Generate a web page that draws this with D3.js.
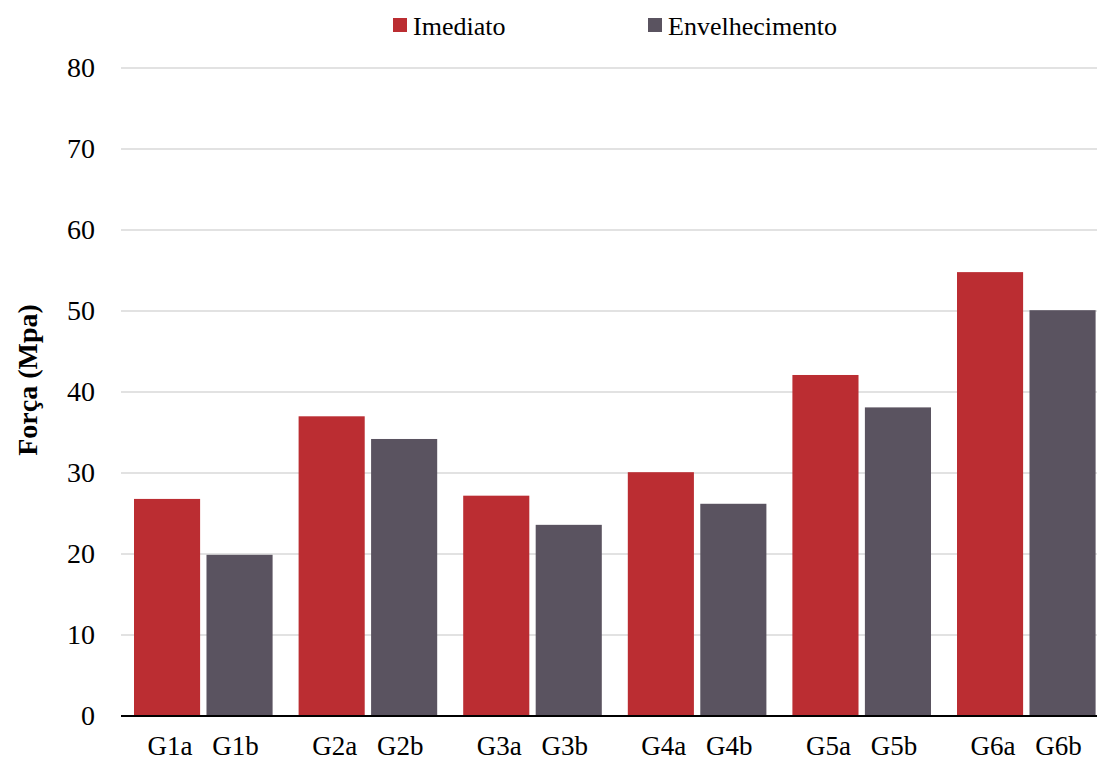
<!DOCTYPE html>
<html><head><meta charset="utf-8">
<script src="https://cdn.jsdelivr.net/npm/d3@7"></script>
<style>body{margin:0;background:#fff}svg{display:block}</style>
</head><body>
<svg id="c" width="1097" height="762"></svg>
<script>
const groups = ["G1", "G2", "G3", "G4", "G5", "G6"];
const seriesNames = ["Imediato", "Envelhecimento"];
const barLabels = [["G1a","G1b"],["G2a","G2b"],["G3a","G3b"],["G4a","G4b"],["G5a","G5b"],["G6a","G6b"]];
const imediato = [26.8, 37.0, 27.2, 30.1, 42.1, 54.8];
const envelhecimento = [19.9, 34.2, 23.6, 26.2, 38.1, 50.1];
const yTicks = [0, 10, 20, 30, 40, 50, 60, 70, 80];
const colors = ["#bb2d32", "#5a5360"];

(function () {
const svg = d3.select("#c");
const font = "'Liberation Serif', 'Times New Roman', serif";
const pLeft = 121, pRight = 1108.6, pTop = 68, pBottom = 716;

const x0 = d3.scaleBand().domain(groups).range([pLeft, pRight]).paddingInner(0.158).paddingOuter(0.079);
const x1 = d3.scaleBand().domain([0, 1]).range([0, x0.bandwidth()]).paddingInner(0.088);
const y = d3.scaleLinear().domain([0, 80]).range([pBottom, pTop]);

// gridlines
svg.append("g").selectAll("line").data(yTicks.filter(d => d > 0)).join("line")
  .attr("x1", pLeft).attr("x2", 1097)
  .attr("y1", d => y(d)).attr("y2", d => y(d))
  .attr("stroke", "#d9d9d9").attr("stroke-width", 1.5);

// y tick labels
const yAxis = d3.axisLeft(y).tickValues(yTicks).tickSize(0).tickPadding(26);
const ya = svg.append("g").attr("transform", `translate(${pLeft},0)`).call(yAxis);
ya.select(".domain").remove();
ya.selectAll("text").attr("font-family", font).attr("font-size", 28).attr("fill", "#000");

// bars
const data = groups.map((g, i) => ({g, vals: [imediato[i], envelhecimento[i]], labels: barLabels[i]}));
const gg = svg.append("g").selectAll("g").data(data).join("g")
  .attr("transform", d => `translate(${x0(d.g)},0)`);
gg.selectAll("rect").data(d => d.vals.map((v, k) => ({v, k}))).join("rect")
  .attr("x", d => x1(d.k)).attr("width", x1.bandwidth())
  .attr("y", d => y(d.v)).attr("height", d => y(0) - y(d.v))
  .attr("fill", d => colors[d.k]);

// bar labels
gg.selectAll("text").data(d => d.labels.map((t, k) => ({t, k}))).join("text")
  .attr("x", d => x1(d.k) + x1.bandwidth() / 2 + (d.k === 0 ? 3 : -4)).attr("y", 755)
  .attr("text-anchor", "middle").attr("font-family", font).attr("font-size", 27)
  .text(d => d.t);

// baseline axis
svg.append("line").attr("x1", pLeft).attr("x2", 1097).attr("y1", y(0)).attr("y2", y(0))
  .attr("stroke", "#000").attr("stroke-width", 2);

// y title
svg.append("text").attr("transform", "translate(37,380) rotate(-90)")
  .attr("text-anchor", "middle").attr("font-family", font).attr("font-weight", "bold")
  .attr("font-size", 28).text("Força (Mpa)");

// legend
const legX = [393, 648];
const lg = svg.append("g").selectAll("g").data(seriesNames).join("g")
  .attr("transform", (d, i) => `translate(${legX[i]},0)`);
lg.append("rect").attr("x", 0).attr("y", 18).attr("width", 14).attr("height", 14)
  .attr("fill", (d, i) => colors[i]);
lg.append("text").attr("x", 20).attr("y", 35).attr("font-family", font).attr("font-size", 26)
  .text(d => d);
})();
</script>
</body></html>
